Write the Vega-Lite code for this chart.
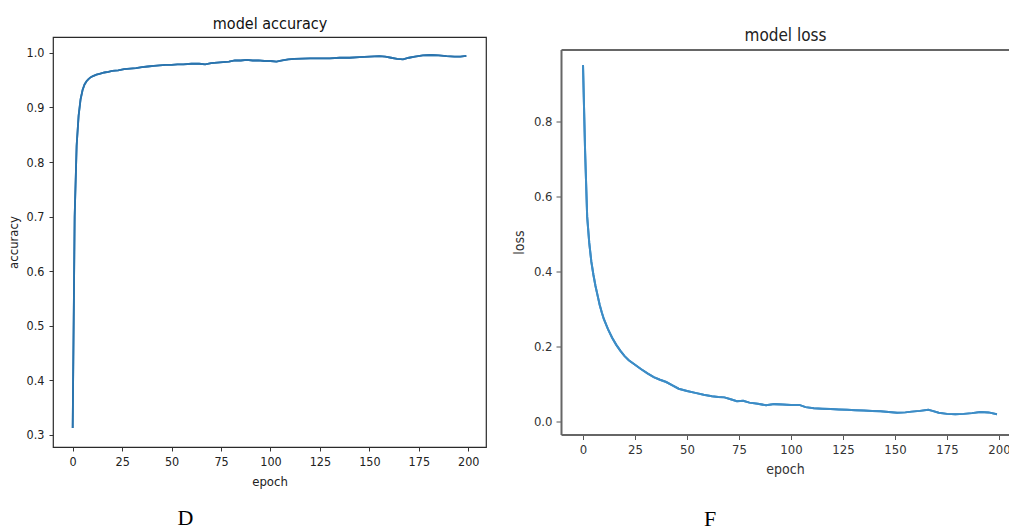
{
  "$schema": "https://vega.github.io/schema/vega-lite/v6.json",
  "background": "white",
  "padding": {"left": 6, "top": 14, "right": 0, "bottom": 0},
  "datasets": {
    "acc": [
      {"epoch": 0, "accuracy": 0.313}, {"epoch": 1, "accuracy": 0.70}, {"epoch": 2, "accuracy": 0.83},
      {"epoch": 3, "accuracy": 0.885}, {"epoch": 4, "accuracy": 0.915}, {"epoch": 5, "accuracy": 0.932},
      {"epoch": 6, "accuracy": 0.942}, {"epoch": 7, "accuracy": 0.948}, {"epoch": 8, "accuracy": 0.952},
      {"epoch": 9, "accuracy": 0.955}, {"epoch": 10, "accuracy": 0.957}, {"epoch": 12, "accuracy": 0.960},
      {"epoch": 14, "accuracy": 0.962}, {"epoch": 16, "accuracy": 0.964}, {"epoch": 18, "accuracy": 0.965},
      {"epoch": 20, "accuracy": 0.967}, {"epoch": 23, "accuracy": 0.968}, {"epoch": 26, "accuracy": 0.970},
      {"epoch": 29, "accuracy": 0.971}, {"epoch": 32, "accuracy": 0.972}, {"epoch": 35, "accuracy": 0.974},
      {"epoch": 38, "accuracy": 0.975}, {"epoch": 41, "accuracy": 0.976}, {"epoch": 44, "accuracy": 0.977},
      {"epoch": 47, "accuracy": 0.978}, {"epoch": 50, "accuracy": 0.978}, {"epoch": 53, "accuracy": 0.979},
      {"epoch": 56, "accuracy": 0.979}, {"epoch": 60, "accuracy": 0.980}, {"epoch": 64, "accuracy": 0.980},
      {"epoch": 67, "accuracy": 0.979}, {"epoch": 70, "accuracy": 0.981}, {"epoch": 73, "accuracy": 0.982},
      {"epoch": 76, "accuracy": 0.983}, {"epoch": 79, "accuracy": 0.984}, {"epoch": 82, "accuracy": 0.986},
      {"epoch": 85, "accuracy": 0.986}, {"epoch": 88, "accuracy": 0.987}, {"epoch": 91, "accuracy": 0.986},
      {"epoch": 94, "accuracy": 0.986}, {"epoch": 97, "accuracy": 0.985}, {"epoch": 100, "accuracy": 0.985},
      {"epoch": 103, "accuracy": 0.984}, {"epoch": 106, "accuracy": 0.986}, {"epoch": 109, "accuracy": 0.988},
      {"epoch": 112, "accuracy": 0.989}, {"epoch": 116, "accuracy": 0.9895}, {"epoch": 120, "accuracy": 0.990},
      {"epoch": 125, "accuracy": 0.990}, {"epoch": 130, "accuracy": 0.990}, {"epoch": 135, "accuracy": 0.991},
      {"epoch": 140, "accuracy": 0.991}, {"epoch": 145, "accuracy": 0.992}, {"epoch": 150, "accuracy": 0.993},
      {"epoch": 155, "accuracy": 0.994}, {"epoch": 158, "accuracy": 0.993}, {"epoch": 161, "accuracy": 0.991},
      {"epoch": 164, "accuracy": 0.989}, {"epoch": 167, "accuracy": 0.988}, {"epoch": 170, "accuracy": 0.991},
      {"epoch": 173, "accuracy": 0.993}, {"epoch": 177, "accuracy": 0.9955}, {"epoch": 181, "accuracy": 0.996},
      {"epoch": 185, "accuracy": 0.9955}, {"epoch": 189, "accuracy": 0.994}, {"epoch": 193, "accuracy": 0.993},
      {"epoch": 196, "accuracy": 0.993}, {"epoch": 199, "accuracy": 0.9945}
    ],
    "loss": [
      {"epoch": 0, "loss": 0.949}, {"epoch": 1, "loss": 0.72}, {"epoch": 2, "loss": 0.545},
      {"epoch": 3, "loss": 0.475}, {"epoch": 4, "loss": 0.425}, {"epoch": 5, "loss": 0.39},
      {"epoch": 6, "loss": 0.36}, {"epoch": 7, "loss": 0.335}, {"epoch": 8, "loss": 0.31},
      {"epoch": 9, "loss": 0.29}, {"epoch": 10, "loss": 0.272}, {"epoch": 12, "loss": 0.245},
      {"epoch": 14, "loss": 0.222}, {"epoch": 16, "loss": 0.203}, {"epoch": 18, "loss": 0.187},
      {"epoch": 20, "loss": 0.173}, {"epoch": 22, "loss": 0.162}, {"epoch": 25, "loss": 0.150},
      {"epoch": 28, "loss": 0.138}, {"epoch": 31, "loss": 0.127}, {"epoch": 34, "loss": 0.117},
      {"epoch": 37, "loss": 0.110}, {"epoch": 40, "loss": 0.104}, {"epoch": 43, "loss": 0.095},
      {"epoch": 46, "loss": 0.086}, {"epoch": 50, "loss": 0.080}, {"epoch": 54, "loss": 0.075},
      {"epoch": 58, "loss": 0.070}, {"epoch": 62, "loss": 0.066}, {"epoch": 65, "loss": 0.064},
      {"epoch": 68, "loss": 0.063}, {"epoch": 71, "loss": 0.058}, {"epoch": 74, "loss": 0.053},
      {"epoch": 77, "loss": 0.054}, {"epoch": 80, "loss": 0.049}, {"epoch": 84, "loss": 0.046},
      {"epoch": 88, "loss": 0.042}, {"epoch": 92, "loss": 0.045}, {"epoch": 96, "loss": 0.044},
      {"epoch": 100, "loss": 0.043}, {"epoch": 104, "loss": 0.043}, {"epoch": 107, "loss": 0.037},
      {"epoch": 111, "loss": 0.034}, {"epoch": 115, "loss": 0.033}, {"epoch": 119, "loss": 0.032},
      {"epoch": 123, "loss": 0.031}, {"epoch": 127, "loss": 0.030}, {"epoch": 131, "loss": 0.029},
      {"epoch": 135, "loss": 0.028}, {"epoch": 139, "loss": 0.027}, {"epoch": 143, "loss": 0.026},
      {"epoch": 147, "loss": 0.024}, {"epoch": 151, "loss": 0.022}, {"epoch": 155, "loss": 0.023},
      {"epoch": 158, "loss": 0.025}, {"epoch": 162, "loss": 0.027}, {"epoch": 166, "loss": 0.030},
      {"epoch": 168, "loss": 0.027}, {"epoch": 171, "loss": 0.022}, {"epoch": 175, "loss": 0.019},
      {"epoch": 179, "loss": 0.018}, {"epoch": 183, "loss": 0.019}, {"epoch": 187, "loss": 0.021},
      {"epoch": 191, "loss": 0.024}, {"epoch": 195, "loss": 0.023}, {"epoch": 199, "loss": 0.018}
    ]
  },
  "config": {
    "view": {"stroke": null},
    "font": "DejaVu Sans Condensed, DejaVu Sans",
    "axis": {
      "grid": false,
      "labelFont": "DejaVu Sans Condensed, DejaVu Sans",
      "titleFont": "DejaVu Sans Condensed, DejaVu Sans",
      "titleFontWeight": "normal",
      "tickSize": 4,
      "tickColor": "#333",
      "domainColor": "#333",
      "labelColor": "#222",
      "titleColor": "#222"
    }
  },
  "hconcat": [
    {
      "width": 433,
      "height": 410,
      "data": {"name": "acc"},
      "view": {"stroke": "#2a2a2a", "strokeWidth": 1.2},
      "title": {"text": "D", "orient": "bottom", "anchor": "middle", "frame": "group", "dx": -84, "offset": 19.5, "font": "Liberation Serif", "fontSize": 22, "fontWeight": "normal", "color": "#000"},
      "layer": [
        {
          "mark": {"type": "line", "color": "#2a74ae", "strokeWidth": 1.8},
          "encoding": {
            "x": {"field": "epoch", "type": "quantitative", "scale": {"domain": [-9.95, 208.95], "nice": false, "zero": false},
                  "axis": {"orient": "bottom", "values": [0, 25, 50, 75, 100, 125, 150, 175, 200], "title": "epoch", "domain": false, "labelFontSize": 12.5, "labelPadding": 4, "titleFontSize": 13, "titlePadding": 8}},
            "y": {"field": "accuracy", "type": "quantitative", "scale": {"domain": [0.278, 1.029], "nice": false, "zero": false},
                  "axis": {"values": [0.3, 0.4, 0.5, 0.6, 0.7, 0.8, 0.9, 1.0], "format": ".1f", "title": "accuracy", "domain": false, "labelFontSize": 12.5, "labelPadding": 5, "titleFontSize": 13, "titlePadding": 6}}
          }
        },
        {
          "mark": {"type": "line", "color": "#2a74ae", "strokeWidth": 1.8},
          "encoding": {
            "x": {"field": "epoch", "type": "quantitative",
                  "axis": {"orient": "top", "title": "model accuracy", "domain": false, "ticks": false, "labels": false, "titleFontSize": 16, "titlePadding": 6, "titleColor": "#111"}},
            "y": {"field": "accuracy", "type": "quantitative"}
          }
        }
      ],
      "resolve": {"axis": {"x": "independent"}}
    },
    {
      "width": 448,
      "height": 385,
      "data": {"name": "loss"},
      "title": {"text": "F", "orient": "bottom", "anchor": "middle", "frame": "group", "dx": -75, "offset": 32, "font": "Liberation Serif", "fontSize": 22, "fontWeight": "normal", "color": "#000"},
      "layer": [
        {
          "mark": {"type": "line", "color": "#3c8cc6", "strokeWidth": 2},
          "encoding": {
            "x": {"field": "epoch", "type": "quantitative", "scale": {"domain": [-10.58, 204.8], "nice": false, "zero": false},
                  "axis": {"orient": "bottom", "values": [0, 25, 50, 75, 100, 125, 150, 175, 200], "title": "epoch", "domain": true, "domainColor": "#666", "domainWidth": 2, "tickColor": "#555", "tickSize": 5, "labelColor": "#333", "titleColor": "#333", "labelFontSize": 13, "labelPadding": 4, "titleFontSize": 14, "titlePadding": 6}},
            "y": {"field": "loss", "type": "quantitative", "scale": {"domain": [-0.036, 0.9907], "nice": false, "zero": false},
                  "axis": {"values": [0.0, 0.2, 0.4, 0.6, 0.8], "format": ".1f", "title": "loss", "domain": true, "domainColor": "#666", "domainWidth": 2, "tickColor": "#555", "tickSize": 5, "labelColor": "#333", "titleColor": "#333", "labelFontSize": 13, "labelPadding": 4, "titleFontSize": 14, "titlePadding": 7}}
          }
        },
        {
          "mark": {"type": "line", "color": "#3c8cc6", "strokeWidth": 2},
          "encoding": {
            "x": {"field": "epoch", "type": "quantitative",
                  "axis": {"orient": "top", "title": "model loss", "domain": true, "domainColor": "#666", "domainWidth": 2, "ticks": false, "labels": false, "titleFontSize": 17, "titlePadding": 5, "titleColor": "#222"}},
            "y": {"field": "loss", "type": "quantitative"}
          }
        }
      ],
      "resolve": {"axis": {"x": "independent"}}
    }
  ],
  "spacing": 75,
  "bounds": "flush",
  "center": true
}
